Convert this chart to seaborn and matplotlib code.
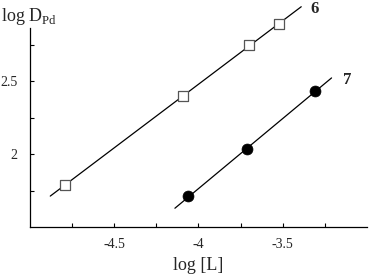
import numpy as np
import matplotlib
matplotlib.use("Agg")
import matplotlib.pyplot as plt
import seaborn as sns

# data
logL_6 = [-4.79, -4.09, -3.70, -3.52]
logD_6 = [1.79, 2.40, 2.75, 2.89]
logL_7 = [-4.06, -3.71, -3.31]
logD_7 = [1.71, 2.035, 2.43]
fit_range_6 = [-4.88, -3.39]
fit_range_7 = [-4.14, -3.21]

sns.set_style("ticks")
plt.rcParams['font.family'] = ['Liberation Serif', 'DejaVu Serif']
plt.rcParams['mathtext.fontset'] = 'custom'
plt.rcParams['mathtext.rm'] = 'Liberation Serif'

fig = plt.figure(figsize=(3.71, 2.80), dpi=100)
ax = fig.add_axes([0.081, 0.189, 0.908, 0.711])

# least squares lines through each series
for xs, ys, rng in [(logL_6, logD_6, fit_range_6), (logL_7, logD_7, fit_range_7)]:
    k, b = np.polyfit(xs, ys, 1)
    fx = np.array(rng)
    sns.lineplot(x=fx, y=k * fx + b, ax=ax, color='black', linewidth=0.9,
                 clip_on=False, zorder=2)

sns.scatterplot(x=logL_6, y=logD_6, ax=ax, marker='s', s=58, color='white',
                edgecolor='#555555', linewidth=0.9, clip_on=False, zorder=3)
sns.scatterplot(x=logL_7, y=logD_7, ax=ax, marker='o', s=62, color='black',
                edgecolor='black', linewidth=0.5, clip_on=False, zorder=3)

ax.set_xlim(-5.0, -3.0)
ax.set_ylim(1.5, 2.865)
ax.set_xticks([-4.5, -4, -3.5])
ax.set_xticklabels(['-4.5', '-4', '-3.5'])
ax.set_xticks([-4.75, -4.25, -3.75, -3.25], minor=True)
ax.set_yticks([2, 2.5])
ax.set_yticklabels(['2', '2.5'])
ax.set_yticks([1.75, 2.25, 2.75], minor=True)
ax.tick_params(which='both', direction='in', length=3, width=0.8, color='black')
ax.tick_params(axis='x', which='major', labelsize=10, pad=8)
ax.tick_params(axis='y', which='major', labelsize=10, pad=9)

for side in ['top', 'right']:
    ax.spines[side].set_visible(False)
for side in ['left', 'bottom']:
    ax.spines[side].set_linewidth(0.9)
    ax.spines[side].set_color('black')

ax.set_xlabel('log [L]', fontsize=13, labelpad=4)
ax.set_ylabel('')
fig.text(0.003, 0.94, r'log D$_{\mathrm{Pd}}$', fontsize=13, ha='left', va='center')

ax.text(0.849, 0.967, '6', transform=fig.transFigure, fontsize=12,
        fontweight='bold', ha='center', va='center')
ax.text(0.935, 0.715, '7', transform=fig.transFigure, fontsize=12,
        fontweight='bold', ha='center', va='center')

fig.savefig('out.png', dpi=100)
